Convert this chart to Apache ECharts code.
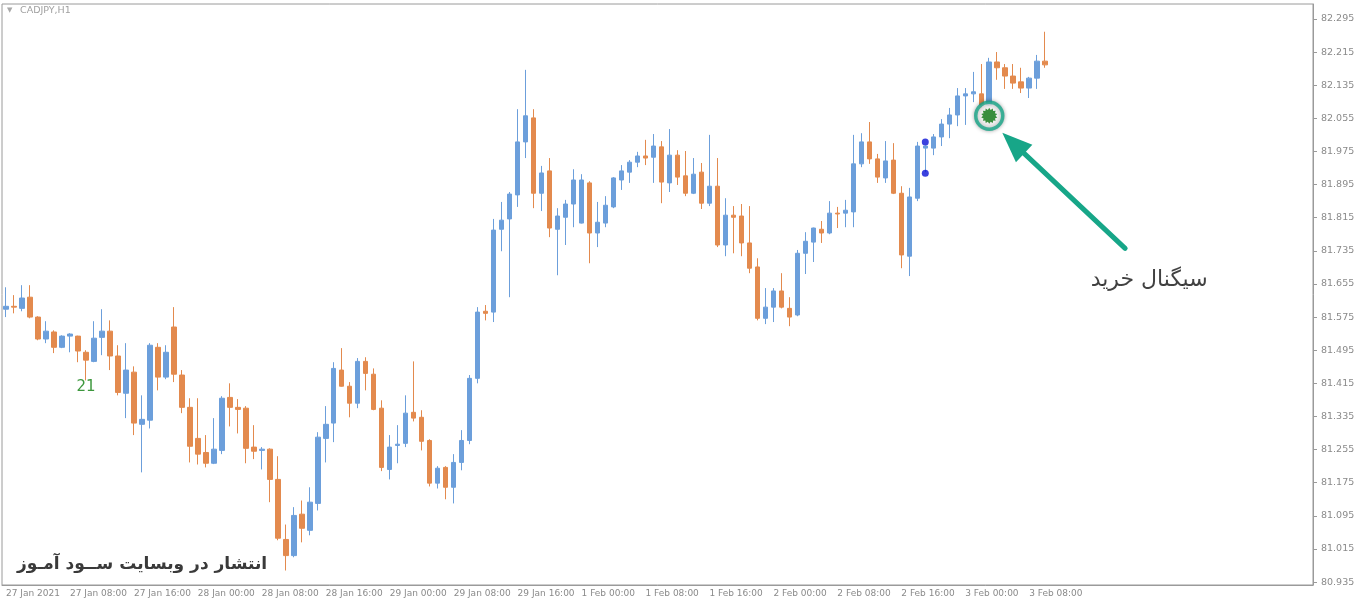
<!DOCTYPE html>
<html>
<head>
<meta charset="utf-8">
<script src="https://cdn.jsdelivr.net/npm/echarts@6/dist/echarts.min.js"></script>
<style>
  html, body { margin: 0; padding: 0; background: #ffffff; }
  #chart { width: 1360px; height: 604px; }
</style>
</head>
<body>
<div id="chart"></div>
<script>
// --- CADJPY H1, velas ---
const opens = [
  81.594, 81.601, 81.596, 81.623, 81.575, 81.522, 81.539, 81.502, 81.529, 81.529,
  81.490, 81.468, 81.526, 81.541, 81.481, 81.391, 81.442, 81.316, 81.326, 81.502,
  81.430, 81.551, 81.435, 81.357, 81.282, 81.248, 81.222, 81.253, 81.381, 81.357,
  81.355, 81.261, 81.253, 81.256, 81.183, 81.038, 80.999, 81.099, 81.060, 81.125,
  81.282, 81.319, 81.447, 81.408, 81.367, 81.468, 81.437, 81.355, 81.207, 81.265,
  81.270, 81.345, 81.333, 81.277, 81.174, 81.212, 81.164, 81.224, 81.277, 81.427,
  81.589, 81.587, 81.787, 81.812, 81.870, 81.998, 82.056, 81.874, 81.928, 81.787,
  81.816, 81.848, 81.802, 81.899, 81.778, 81.802, 81.841, 81.906, 81.925, 81.949,
  81.964, 81.961, 81.986, 81.899, 81.966, 81.916, 81.874, 81.925, 81.850, 81.891,
  81.749, 81.821, 81.819, 81.754, 81.696, 81.572, 81.599, 81.638, 81.596, 81.580,
  81.729, 81.756, 81.787, 81.778, 81.826, 81.826, 81.829, 81.945, 81.998, 81.957,
  81.911, 81.954, 81.874, 81.722, 81.862, 81.983, 81.983, 82.010, 82.041, 82.063,
  82.109, 82.114, 82.114, 82.087, 82.191, 82.177, 82.157, 82.143, 82.128, 82.152,
  82.193
];
const closes = [
  81.601, 81.599, 81.621, 81.575, 81.522, 81.541, 81.502, 81.529, 81.534, 81.493,
  81.471, 81.524, 81.541, 81.481, 81.393, 81.447, 81.319, 81.328, 81.507, 81.430,
  81.490, 81.437, 81.357, 81.263, 81.244, 81.222, 81.256, 81.379, 81.357, 81.352,
  81.258, 81.251, 81.256, 81.183, 81.041, 80.999, 81.096, 81.065, 81.128, 81.285,
  81.316, 81.451, 81.408, 81.367, 81.468, 81.439, 81.352, 81.212, 81.261, 81.268,
  81.343, 81.331, 81.275, 81.174, 81.210, 81.164, 81.224, 81.277, 81.427, 81.587,
  81.584, 81.785, 81.809, 81.872, 81.998, 82.061, 81.874, 81.923, 81.790, 81.819,
  81.848, 81.906, 81.906, 81.778, 81.804, 81.845, 81.911, 81.928, 81.949, 81.964,
  81.959, 81.988, 81.901, 81.966, 81.913, 81.874, 81.920, 81.850, 81.891, 81.749,
  81.821, 81.816, 81.754, 81.693, 81.572, 81.599, 81.638, 81.599, 81.575, 81.729,
  81.758, 81.790, 81.778, 81.826, 81.824, 81.833, 81.945, 81.998, 81.957, 81.913,
  81.952, 81.874, 81.725, 81.865, 81.988, 81.988, 82.010, 82.041, 82.063, 82.109,
  82.114, 82.119, 82.087, 82.191, 82.177, 82.157, 82.140, 82.128, 82.152, 82.193,
  82.184
];
const lows = [
  81.575, 81.584, 81.589, 81.572, 81.519, 81.512, 81.488, 81.500, 81.490, 81.466,
  81.422, 81.466, 81.483, 81.447, 81.386, 81.331, 81.290, 81.200, 81.306, 81.398,
  81.425, 81.418, 81.343, 81.224, 81.219, 81.212, 81.220, 81.244, 81.311, 81.294,
  81.222, 81.232, 81.207, 81.128, 81.036, 80.963, 80.995, 81.031, 81.048, 81.108,
  81.224, 81.273, 81.407, 81.333, 81.355, 81.398, 81.350, 81.203, 81.183, 81.222,
  81.261, 81.323, 81.253, 81.166, 81.161, 81.135, 81.125, 81.205, 81.268, 81.415,
  81.567, 81.563, 81.734, 81.623, 81.841, 81.959, 81.838, 81.831, 81.768, 81.676,
  81.749, 81.792, 81.801, 81.705, 81.744, 81.792, 81.838, 81.882, 81.899, 81.937,
  81.942, 81.899, 81.850, 81.877, 81.894, 81.867, 81.872, 81.836, 81.843, 81.744,
  81.722, 81.729, 81.722, 81.681, 81.567, 81.558, 81.563, 81.596, 81.553, 81.577,
  81.679, 81.708, 81.754, 81.775, 81.790, 81.792, 81.792, 81.937, 81.945, 81.899,
  81.899, 81.872, 81.693, 81.674, 81.855, 81.925, 81.966, 81.988, 82.007, 82.036,
  82.039, 82.094, 82.080, 82.085, 82.148, 82.126, 82.126, 82.116, 82.104, 82.126,
  82.177
];
const highs = [
  81.647, 81.628, 81.652, 81.652, 81.577, 81.565, 81.543, 81.531, 81.536, 81.530,
  81.495, 81.565, 81.594, 81.567, 81.507, 81.512, 81.456, 81.386, 81.512, 81.512,
  81.507, 81.599, 81.447, 81.379, 81.379, 81.290, 81.331, 81.384, 81.415, 81.377,
  81.360, 81.314, 81.261, 81.258, 81.239, 81.074, 81.116, 81.132, 81.164, 81.297,
  81.360, 81.466, 81.500, 81.418, 81.476, 81.478, 81.451, 81.374, 81.290, 81.314,
  81.386, 81.468, 81.350, 81.280, 81.215, 81.215, 81.244, 81.302, 81.435, 81.599,
  81.604, 81.812, 81.853, 81.877, 82.077, 82.172, 82.077, 81.940, 81.959, 81.838,
  81.858, 81.932, 81.920, 81.903, 81.853, 81.867, 81.913, 81.942, 81.954, 81.974,
  82.003, 82.017, 82.000, 82.029, 81.978, 81.976, 81.959, 81.947, 82.015, 81.959,
  81.862, 81.843, 81.848, 81.843, 81.717, 81.645, 81.645, 81.681, 81.623, 81.737,
  81.780, 81.791, 81.807, 81.855, 81.841, 81.858, 82.015, 82.019, 82.046, 81.969,
  82.000, 81.995, 81.891, 81.887, 81.998, 81.989, 82.017, 82.053, 82.080, 82.128,
  82.128, 82.167, 82.186, 82.201, 82.215, 82.186, 82.186, 82.177, 82.155, 82.208,
  82.264
];

// --- Etiquetas de ejes ---
const xTickLabels = [
  "27 Jan 2021", "27 Jan 08:00", "27 Jan 16:00", "28 Jan 00:00", "28 Jan 08:00",
  "28 Jan 16:00", "29 Jan 00:00", "29 Jan 08:00", "29 Jan 16:00", "1 Feb 00:00",
  "1 Feb 08:00", "1 Feb 16:00", "2 Feb 00:00", "2 Feb 08:00", "2 Feb 16:00",
  "3 Feb 00:00", "3 Feb 08:00"
];
const yTicks = [
  80.935, 81.015, 81.095, 81.175, 81.255, 81.335, 81.415, 81.495, 81.575,
  81.655, 81.735, 81.815, 81.895, 81.975, 82.055, 82.135, 82.215, 82.295
];

// --- Marcas sobre el grafico ---
const fractalUp = [115, 81.998];
const fractalDown = [115, 81.922];
const signalBuy = [123, 82.061];
const arrowFrom = [140, 81.741];
const arrowTo = [126, 81.995];

const totalSlots = 164; // velas + espacio vacio a la derecha
const tickStep = 8;

// categorias horarias (fin de semana omitido)
const categories = [];
for (let i = 0; i < totalSlots; i++) {
  categories.push(i < 72 ? "J" + i : "F" + (i - 72));
}

const candleData = opens.map((o, i) => [o, closes[i], lows[i], highs[i]]);

// estrella para la senal de compra
function starPath(points, rOut, rIn) {
  let d = "";
  for (let k = 0; k < points * 2; k++) {
    const r = k % 2 === 0 ? rOut : rIn;
    const a = (Math.PI * k) / points - Math.PI / 2;
    const x = (50 + r * Math.cos(a)).toFixed(2);
    const y = (50 + r * Math.sin(a)).toFixed(2);
    d += (k === 0 ? "M" : "L") + x + " " + y + " ";
  }
  return "path://" + d + "Z";
}

const BLUE = "#6c9fdb";
const ORANGE = "#e38a4e";
const AXIS = "#9a9a9a";
const TEAL = "#17a688";
const lastClose = closes[closes.length - 1];

var myChart = echarts.init(document.getElementById("chart"));

myChart.setOption({
  animation: false,
  backgroundColor: "#ffffff",
  grid: {
    left: 2,
    right: 47,
    top: 4,
    bottom: 19,
    show: true,
    borderColor: AXIS,
    borderWidth: 1
  },
  xAxis: {
    type: "category",
    data: categories,
    boundaryGap: true,
    axisLine: { lineStyle: { color: AXIS } },
    axisTick: {
      alignWithLabel: true,
      length: 3,
      lineStyle: { color: AXIS },
      interval: (i) => i % tickStep === 0 && i / tickStep < xTickLabels.length
    },
    axisLabel: {
      interval: (i) => i % tickStep === 0 && i / tickStep < xTickLabels.length,
      formatter: (v, i) => xTickLabels[i / tickStep] || "",
      align: "left",
      margin: 4,
      color: "#8a8a8a",
      fontFamily: "DejaVu Sans",
      fontSize: 9
    },
    splitLine: { show: false }
  },
  yAxis: {
    type: "value",
    position: "right",
    min: 80.928,
    max: 82.331,
    scale: true,
    axisLine: { show: true, lineStyle: { color: AXIS } },
    axisTick: {
      show: true,
      length: 4,
      lineStyle: { color: AXIS },
      customValues: yTicks
    },
    axisLabel: {
      customValues: yTicks,
      formatter: (v) => v.toFixed(3),
      color: "#8a8a8a",
      fontFamily: "DejaVu Sans",
      fontSize: 9.5,
      margin: 8
    },
    splitLine: { show: false }
  },
  graphic: [
    {
      type: "text",
      left: 7,
      top: 7,
      style: { text: "▼", fill: "#a8a8a8", font: "7px DejaVu Sans" }
    },
    {
      type: "text",
      left: 20,
      top: 6,
      style: { text: "CADJPY,H1", fill: "#a0a0a0", font: "9.5px DejaVu Sans" }
    },
    {
      type: "text",
      left: 17,
      top: 556,
      style: {
        text: "انتشار در وبسایت ســود آمـوز",
        fill: "#3a3a3a",
        font: "bold 17px DejaVu Sans"
      }
    }
  ],
  series: [
    {
      name: "CADJPY",
      type: "candlestick",
      data: candleData,
      barWidth: 5,
      itemStyle: {
        color: BLUE,
        color0: ORANGE,
        borderColor: BLUE,
        borderColor0: ORANGE,
        borderWidth: 1
      },
      markLine: {
        silent: true,
        symbol: "none",
        lineStyle: { opacity: 0 },
        label: {
          position: "end",
          distance: 5,
          formatter: () => lastClose.toFixed(3),
          backgroundColor: "#9b9b9b",
          color: "#ffffff",
          fontFamily: "DejaVu Sans",
          fontSize: 9.5,
          padding: [2, 3, 1, 3]
        },
        data: [{ yAxis: lastClose }]
      }
    },
    {
      // fractales
      type: "scatter",
      data: [fractalUp, fractalDown],
      symbol: "circle",
      symbolSize: 7,
      itemStyle: { color: "#0a12d6" },
      z: 3
    },
    {
      // anillo de la senal + flecha
      type: "scatter",
      data: [signalBuy],
      symbol: "circle",
      symbolSize: 27,
      itemStyle: {
        color: "#ffffff",
        borderColor: TEAL,
        borderWidth: 3.5,
        shadowBlur: 4,
        shadowColor: "rgba(0,0,0,0.35)"
      },
      z: 4,
      markLine: {
        silent: true,
        symbol: ["none", "triangle"],
        symbolSize: [24, 30],
        lineStyle: { color: TEAL, width: 5, type: "solid", cap: "round" },
        itemStyle: { color: TEAL },
        label: { show: false },
        data: [[{ coord: arrowFrom }, { coord: arrowTo }]]
      }
    },
    {
      // estrella de la senal
      type: "scatter",
      data: [signalBuy],
      symbol: starPath(14, 50, 38),
      symbolSize: 16,
      itemStyle: { color: "#0b7510" },
      z: 5
    },
    {
      // textos
      type: "scatter",
      symbolSize: 1,
      itemStyle: { color: "transparent" },
      label: {
        show: true,
        position: "inside",
        fontFamily: "DejaVu Sans"
      },
      data: [
        {
          value: [10, 81.406],
          label: { formatter: "21", color: "#0c7d0c", fontSize: 15 }
        },
        {
          value: [143, 81.664],
          label: { formatter: "سیگنال خرید", color: "#111111", fontSize: 22 }
        }
      ],
      z: 6
    }
  ]
});
</script>
</body>
</html>
